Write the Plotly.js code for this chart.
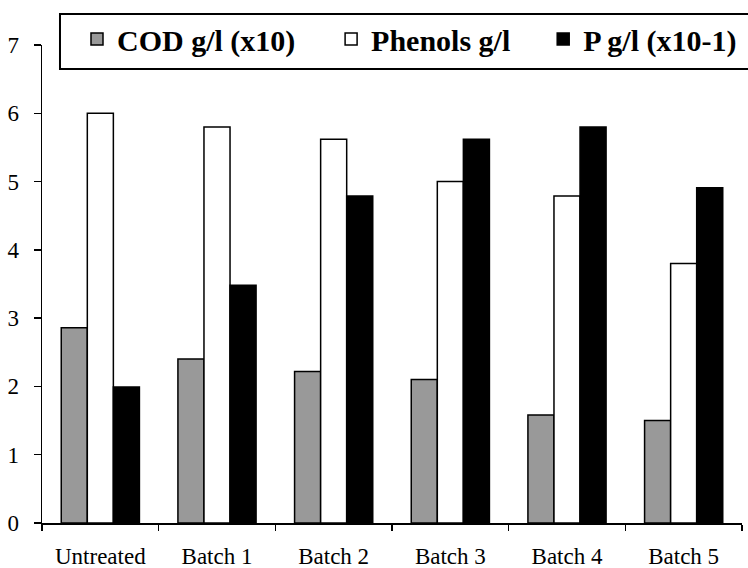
<!DOCTYPE html>
<html>
<head>
<meta charset="utf-8">
<script src="https://cdn.plot.ly/plotly-3.0.1.min.js"></script>
<style>html,body{margin:0;padding:0;background:#fff;}#chart{width:748px;height:568px;}</style>
</head>
<body>
<div id="chart"></div>
<script>
const categories = ["Untreated", "Batch 1", "Batch 2", "Batch 3", "Batch 4", "Batch 5"];
const seriesNames = ["COD g/l (x10)", "Phenols g/l", "P g/l (x10-1)"];
const codValues = [2.86, 2.40, 2.22, 2.10, 1.58, 1.50];
const phenolsValues = [6.00, 5.80, 5.62, 5.00, 4.79, 3.80];
const pValues = [1.99, 3.48, 4.79, 5.62, 5.80, 4.91];
const yTicks = [0, 1, 2, 3, 4, 5, 6, 7];

const serif = "'Liberation Serif', 'Times New Roman', serif";
const mk = (name, vals, fill, leg) => ({
  type: "bar", name: name, x: categories, y: vals, legend: leg,
  marker: {color: fill, line: {color: "#000", width: 1.5}},
  hoverinfo: "x+y"
});
const data = [
  mk(seriesNames[0], codValues, "#999999", "legend"),
  mk(seriesNames[1], phenolsValues, "#ffffff", "legend2"),
  mk(seriesNames[2], pValues, "#000000", "legend3")
];
const legFont = {family: serif, size: 30, color: "#000", weight: "bold"};
const legBase = (x) => ({
  orientation: "h", x: x, xanchor: "left", y: 1.067, yanchor: "top",
  borderwidth: 0, bgcolor: "rgba(0,0,0,0)", font: legFont
});
const layout = {
  width: 748, height: 568,
  margin: {l: 42, r: 6, t: 45, b: 45},
  paper_bgcolor: "#fff", plot_bgcolor: "#fff",
  barmode: "group", bargap: 0.33, bargroupgap: 0,
  font: {family: serif, color: "#000", size: 23},
  xaxis: {
    type: "category", showline: true, linecolor: "#000", linewidth: 1.5,
    ticks: "outside", tickson: "boundaries", ticklen: 6, tickwidth: 1.5, tickcolor: "#000",
    tickfont: {family: serif, size: 23}, ticklabelstandoff: 12,
    showgrid: false, zeroline: false, fixedrange: true
  },
  yaxis: {
    range: [0, 7], tickvals: yTicks, showline: true, linecolor: "#000", linewidth: 1.5,
    ticks: "outside", ticklen: 7, tickwidth: 1.5, tickcolor: "#000",
    tickfont: {family: serif, size: 23}, ticklabelstandoff: 10,
    showgrid: false, zeroline: false, fixedrange: true
  },
  legend: legBase(0.05),
  legend2: legBase(0.413),
  legend3: legBase(0.716),
  shapes: [{
    type: "rect", xref: "paper", yref: "paper",
    x0: 0.0257, x1: 1.02, y0: 0.9498, y1: 1.0649,
    line: {color: "#000", width: 2}, fillcolor: "rgba(0,0,0,0)", layer: "above"
  }],
  showlegend: true
};
Plotly.newPlot("chart", data, layout, {displayModeBar: false, staticPlot: true});
</script>
</body>
</html>
